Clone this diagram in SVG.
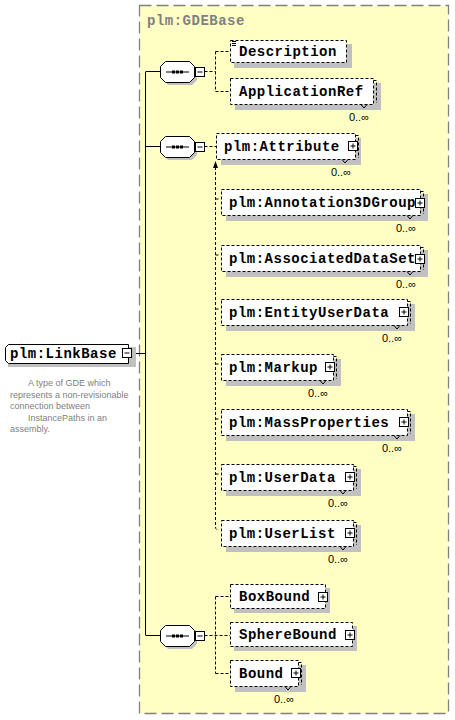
<svg xmlns="http://www.w3.org/2000/svg" width="455" height="720" viewBox="0 0 455 720">
<defs>
<style>
.bg{fill:#fff}
.sh{fill:#c0c0c0}
.box{fill:#fff;stroke:#000;stroke-width:1;stroke-dasharray:3,2}
.edge{fill:none;stroke:#000;stroke-width:1;stroke-dasharray:3,2}
.v{fill:none;stroke:#000;stroke-width:1}
.t{font-family:"Liberation Mono","Courier New",monospace;font-weight:bold;font-size:14px;letter-spacing:0.5px;fill:#000}
.occ{font-family:"Liberation Sans",Arial,sans-serif;font-size:11px;fill:#000;text-anchor:end}
.doc{font-family:"Liberation Sans",Arial,sans-serif;font-size:9px;fill:#808080}
.ln{fill:none;stroke:#000;stroke-width:1}
.dl{fill:none;stroke:#000;stroke-width:1;stroke-dasharray:3,2}
</style>
<g id="plus">
<rect x="0.5" y="0.5" width="9" height="9" fill="#fff" stroke="#000"/>
<path d="M2.5 5H7.5M5 2.5V7.5" stroke="#000"/>
</g>
<g id="seq">
<path d="M8 3H32L37 8V19L32 24H8L3 19V8Z" class="sh"/>
<path d="M5.5 0.5H29.5L34.5 5.5V16.5L29.5 21.5H5.5L0.5 16.5V5.5Z" fill="#fff" stroke="#000"/>
<path d="M6 11H29" stroke="#000"/>
<rect x="12" y="9.5" width="3" height="3" fill="#000"/>
<rect x="16" y="9.5" width="3" height="3" fill="#000"/>
<rect x="20" y="9.5" width="3" height="3" fill="#000"/>
<rect x="35.5" y="6.5" width="9" height="9" fill="#fff" stroke="#000"/>
<path d="M37.5 11H42.5" stroke="#000"/>
</g>
</defs>

<rect x="139.5" y="5.5" width="309" height="708" fill="#FFFFC4" stroke="#808080" stroke-width="1.3" stroke-dasharray="12,5"/>
<text x="147" y="25" class="t" style="fill:#808080">plm:GDEBase</text>

<g id="connectors">
<path class="ln" d="M132 353.5H145.5M145.5 72V635M145.5 71.5H160M145.5 146.5H160M145.5 635.5H160"/>
<path class="dl" d="M204.5 71.5H215.5M215.5 51.5V91.5M215.5 51.5H230M215.5 91.5H230"/>
<path class="dl" d="M204.5 146.5H216"/>
<path class="dl" d="M215.5 167V527Q215.5 530 219 530"/>
<path d="M215.5 161L213 168H218Z" fill="#000"/>
<path class="ln" d="M217.5 156.5L221.5 152.5"/>
<path d="M223 151L218.5 152.5L221.5 155.5Z" fill="#000"/>
<path class="dl" d="M215.5 199H219M215.5 255H219M215.5 309H219M215.5 364H219M215.5 419H219M215.5 474H219"/>
<path class="dl" d="M204.5 635.5H230M215.5 596.5V673.5M215.5 596.5H230M215.5 673.5H230"/>
</g>

<g id="LinkBase">
<path d="M11 347H136V367H8V353Z" class="sh"/>
<path d="M8.5 344.5H128.5V363.5H8.5L5.5 360.5V347.5Z" fill="#fff" stroke="#000"/>
<text x="10" y="358" class="t">plm:LinkBase</text>
<rect x="122.5" y="348.5" width="9" height="9" fill="#fff" stroke="#000"/>
<path d="M124.5 353H129.5" stroke="#000"/>
<text class="doc"><tspan x="28" y="386">A type of GDE which</tspan><tspan x="10" y="397.5">represents a non-revisionable</tspan><tspan x="10" y="409">connection between</tspan><tspan x="28" y="420.5">InstancePaths in an</tspan><tspan x="10" y="432">assembly.</tspan></text>
</g>

<g id="seq1"><use href="#seq" x="160" y="61"/></g>
<g id="seq2"><use href="#seq" x="160" y="136"/></g>
<g id="seq3"><use href="#seq" x="160" y="625"/></g>

<g id="Description">
<rect x="234" y="44" width="118" height="24" class="sh"/>
<rect x="230.5" y="40.5" width="116" height="22" class="box"/>
<path d="M232 41.5H236M232 43.5H236M232 45.5H236" stroke="#000"/>
<text x="239" y="56" class="t">Description</text>
</g>

<g id="ApplicationRef">
<rect x="235" y="83" width="146" height="27" class="sh"/>
<rect x="230.5" y="78.5" width="143" height="26" class="box"/>
<path class="edge" d="M373.5 80.5H376.5V103"/>
<path class="v" d="M361 104.5L364 108L367 104.5"/>
<text x="239" y="96" class="t">ApplicationRef</text>
<text x="369" y="121" class="occ">0..∞</text>
</g>

<g id="Attribute">
<rect x="221" y="138" width="140" height="27" class="sh"/>
<rect x="216.5" y="133.5" width="139" height="26" class="box"/>
<path class="edge" d="M355.5 135.5H358.5V158"/>
<path class="v" d="M342 159.5L345 163L348 159.5"/>
<text x="224" y="151" class="t">plm:Attribute</text>
<use href="#plus" x="348" y="141"/>
<text x="351" y="176" class="occ">0..∞</text>
</g>

<g id="Annotation3DGroup">
<rect x="226" y="194" width="202" height="27" class="sh"/>
<rect x="221.5" y="189.5" width="199" height="26" class="box"/>
<path class="edge" d="M420.5 191.5H423.5V214"/>
<path class="v" d="M407 215.5L410 219L413 215.5"/>
<text x="229" y="207" class="t">plm:Annotation3DGroup</text>
<use href="#plus" x="415" y="198"/>
<text x="416" y="232" class="occ">0..∞</text>
</g>

<g id="AssociatedDataSet">
<rect x="226" y="250" width="202" height="27" class="sh"/>
<rect x="221.5" y="245.5" width="199" height="26" class="box"/>
<path class="edge" d="M420.5 247.5H423.5V270"/>
<path class="v" d="M407 271.5L410 275L413 271.5"/>
<text x="229" y="263" class="t">plm:AssociatedDataSet</text>
<use href="#plus" x="415" y="254"/>
<text x="416" y="288" class="occ">0..∞</text>
</g>

<g id="EntityUserData">
<rect x="226" y="304" width="189" height="27" class="sh"/>
<rect x="221.5" y="299.5" width="186" height="26" class="box"/>
<path class="edge" d="M407.5 301.5H410.5V324"/>
<path class="v" d="M394 325.5L397 329L400 325.5"/>
<text x="229" y="317" class="t">plm:EntityUserData</text>
<use href="#plus" x="399" y="307"/>
<text x="402" y="342" class="occ">0..∞</text>
</g>

<g id="Markup">
<rect x="226" y="359" width="115" height="27" class="sh"/>
<rect x="221.5" y="354.5" width="112" height="26" class="box"/>
<path class="edge" d="M333.5 356.5H336.5V379"/>
<path class="v" d="M320 380.5L323 384L326 380.5"/>
<text x="229" y="372" class="t">plm:Markup</text>
<use href="#plus" x="325" y="362"/>
<text x="328" y="397" class="occ">0..∞</text>
</g>

<g id="MassProperties">
<rect x="226" y="414" width="189" height="27" class="sh"/>
<rect x="221.5" y="409.5" width="186" height="26" class="box"/>
<path class="edge" d="M407.5 411.5H410.5V434"/>
<path class="v" d="M394 435.5L397 439L400 435.5"/>
<text x="229" y="427" class="t">plm:MassProperties</text>
<use href="#plus" x="399" y="417"/>
<text x="402" y="452" class="occ">0..∞</text>
</g>

<g id="UserData">
<rect x="226" y="469" width="135" height="27" class="sh"/>
<rect x="221.5" y="464.5" width="132" height="26" class="box"/>
<path class="edge" d="M353.5 466.5H356.5V489"/>
<path class="v" d="M340 490.5L343 494L346 490.5"/>
<text x="229" y="482" class="t">plm:UserData</text>
<use href="#plus" x="345" y="472"/>
<text x="348" y="507" class="occ">0..∞</text>
</g>

<g id="UserList">
<rect x="226" y="525" width="135" height="27" class="sh"/>
<rect x="221.5" y="520.5" width="132" height="26" class="box"/>
<path class="edge" d="M353.5 522.5H356.5V545"/>
<path class="v" d="M340 546.5L343 550L346 546.5"/>
<text x="229" y="538" class="t">plm:UserList</text>
<use href="#plus" x="345" y="528"/>
<text x="348" y="563" class="occ">0..∞</text>
</g>

<g id="BoxBound">
<rect x="234" y="588" width="96" height="25" class="sh"/>
<rect x="230.5" y="584.5" width="95" height="24" class="box"/>
<text x="239" y="601" class="t">BoxBound</text>
<use href="#plus" x="318" y="592"/>
</g>

<g id="SphereBound">
<rect x="234" y="626" width="123" height="25" class="sh"/>
<rect x="230.5" y="622.5" width="122" height="24" class="box"/>
<text x="239" y="639" class="t">SphereBound</text>
<use href="#plus" x="345" y="630"/>
</g>

<g id="Bound">
<rect x="235" y="665" width="71" height="27" class="sh"/>
<rect x="230.5" y="660.5" width="68" height="26" class="box"/>
<path class="edge" d="M298.5 662.5H301.5V685"/>
<path class="v" d="M285 686.5L288 690L291 686.5"/>
<text x="239" y="678" class="t">Bound</text>
<use href="#plus" x="291" y="668"/>
<text x="294" y="703" class="occ">0..∞</text>
</g>
</svg>
